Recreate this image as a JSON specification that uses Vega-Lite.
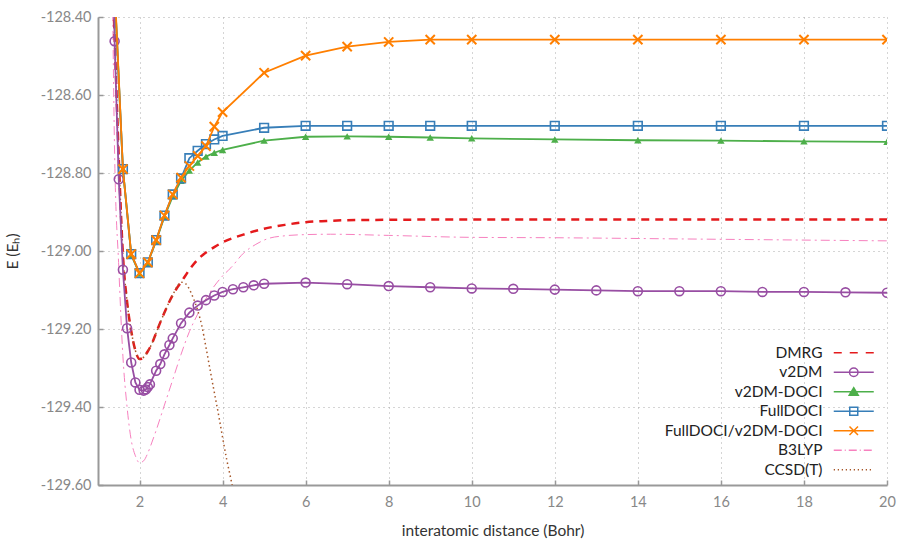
{
"$schema": "https://vega.github.io/schema/vega-lite/v6.json",
"width": 789, "height": 468,
"autosize": {"type": "none"},
"padding": {"left": 98, "top": 17, "right": 12, "bottom": 56},
"config": {
  "view": {"stroke": null},
  "font": "Lato",
  "axis": {"domainColor": "#999", "domainWidth": 2, "tickColor": "#999", "tickWidth": 1.5, "tickSize": -5, "labelFlush": false,
           "labelColor": "#888", "labelFontSize": 14.5, "labelFont": "Lato", "titleFont": "Lato", "titleFontSize": 15.5,
           "titleFontWeight": "normal", "titleColor": "#333", "gridColor": "#aaa", "gridDash": [1, 4], "gridWidth": 1}
},
"datasets": {
  "d": [
    {"s":"DMRG","x":1.35,"E":-128.30},{"s":"DMRG","x":1.4,"E":-128.45},{"s":"DMRG","x":1.5,"E":-128.76},{"s":"DMRG","x":1.6,"E":-129.01},
    {"s":"DMRG","x":1.7,"E":-129.13},{"s":"DMRG","x":1.8,"E":-129.205},{"s":"DMRG","x":1.9,"E":-129.255},{"s":"DMRG","x":2.0,"E":-129.277},
    {"s":"DMRG","x":2.1,"E":-129.272},{"s":"DMRG","x":2.2,"E":-129.257},{"s":"DMRG","x":2.3,"E":-129.237},{"s":"DMRG","x":2.4,"E":-129.21},
    {"s":"DMRG","x":2.5,"E":-129.183},{"s":"DMRG","x":2.6,"E":-129.158},{"s":"DMRG","x":2.7,"E":-129.134},{"s":"DMRG","x":2.8,"E":-129.113},
    {"s":"DMRG","x":2.9,"E":-129.095},{"s":"DMRG","x":3.0,"E":-129.08},{"s":"DMRG","x":3.2,"E":-129.048},{"s":"DMRG","x":3.4,"E":-129.022},
    {"s":"DMRG","x":3.6,"E":-129.004},{"s":"DMRG","x":3.8,"E":-128.99},{"s":"DMRG","x":4.0,"E":-128.978},{"s":"DMRG","x":4.5,"E":-128.958},
    {"s":"DMRG","x":5.0,"E":-128.943},{"s":"DMRG","x":5.5,"E":-128.933},{"s":"DMRG","x":6.0,"E":-128.926},{"s":"DMRG","x":6.5,"E":-128.923},
    {"s":"DMRG","x":7,"E":-128.921},{"s":"DMRG","x":8,"E":-128.92},{"s":"DMRG","x":10,"E":-128.919},{"s":"DMRG","x":12,"E":-128.919},
    {"s":"DMRG","x":14,"E":-128.919},{"s":"DMRG","x":16,"E":-128.919},{"s":"DMRG","x":18,"E":-128.919},{"s":"DMRG","x":20,"E":-128.919},

    {"s":"B3LYP","x":1.3,"E":-127.9},{"s":"B3LYP","x":1.35,"E":-128.35},{"s":"B3LYP","x":1.4,"E":-128.75},{"s":"B3LYP","x":1.5,"E":-129.04},
    {"s":"B3LYP","x":1.6,"E":-129.27},{"s":"B3LYP","x":1.7,"E":-129.40},{"s":"B3LYP","x":1.8,"E":-129.485},{"s":"B3LYP","x":1.9,"E":-129.525},
    {"s":"B3LYP","x":2.0,"E":-129.543},{"s":"B3LYP","x":2.1,"E":-129.538},{"s":"B3LYP","x":2.2,"E":-129.518},{"s":"B3LYP","x":2.3,"E":-129.49},
    {"s":"B3LYP","x":2.4,"E":-129.46},{"s":"B3LYP","x":2.6,"E":-129.395},{"s":"B3LYP","x":2.8,"E":-129.33},{"s":"B3LYP","x":3.0,"E":-129.265},
    {"s":"B3LYP","x":3.2,"E":-129.207},{"s":"B3LYP","x":3.4,"E":-129.162},{"s":"B3LYP","x":3.6,"E":-129.122},{"s":"B3LYP","x":3.8,"E":-129.09},
    {"s":"B3LYP","x":4.0,"E":-129.064},{"s":"B3LYP","x":4.2,"E":-129.043},{"s":"B3LYP","x":4.5,"E":-129.006},{"s":"B3LYP","x":4.8,"E":-128.983},
    {"s":"B3LYP","x":5.1,"E":-128.968},{"s":"B3LYP","x":5.5,"E":-128.961},{"s":"B3LYP","x":6.0,"E":-128.958},{"s":"B3LYP","x":6.6,"E":-128.957},
    {"s":"B3LYP","x":8,"E":-128.96},{"s":"B3LYP","x":10,"E":-128.965},{"s":"B3LYP","x":12,"E":-128.966},{"s":"B3LYP","x":15,"E":-128.969},
    {"s":"B3LYP","x":20,"E":-128.974},

    {"s":"CCSD(T)","x":1.35,"E":-128.30},{"s":"CCSD(T)","x":1.4,"E":-128.45},{"s":"CCSD(T)","x":1.5,"E":-128.76},{"s":"CCSD(T)","x":1.6,"E":-129.01},
    {"s":"CCSD(T)","x":1.7,"E":-129.13},{"s":"CCSD(T)","x":1.8,"E":-129.205},{"s":"CCSD(T)","x":1.9,"E":-129.255},{"s":"CCSD(T)","x":2.0,"E":-129.277},
    {"s":"CCSD(T)","x":2.1,"E":-129.272},{"s":"CCSD(T)","x":2.2,"E":-129.257},{"s":"CCSD(T)","x":2.3,"E":-129.237},{"s":"CCSD(T)","x":2.4,"E":-129.21},
    {"s":"CCSD(T)","x":2.5,"E":-129.183},{"s":"CCSD(T)","x":2.6,"E":-129.158},{"s":"CCSD(T)","x":2.7,"E":-129.134},{"s":"CCSD(T)","x":2.8,"E":-129.113},
    {"s":"CCSD(T)","x":2.9,"E":-129.092},{"s":"CCSD(T)","x":3.0,"E":-129.08},{"s":"CCSD(T)","x":3.1,"E":-129.083},{"s":"CCSD(T)","x":3.2,"E":-129.098},
    {"s":"CCSD(T)","x":3.3,"E":-129.122},{"s":"CCSD(T)","x":3.4,"E":-129.152},{"s":"CCSD(T)","x":3.5,"E":-129.192},{"s":"CCSD(T)","x":3.6,"E":-129.247},
    {"s":"CCSD(T)","x":3.7,"E":-129.305},{"s":"CCSD(T)","x":3.8,"E":-129.362},{"s":"CCSD(T)","x":3.9,"E":-129.418},{"s":"CCSD(T)","x":4.0,"E":-129.478},
    {"s":"CCSD(T)","x":4.1,"E":-129.535},{"s":"CCSD(T)","x":4.2,"E":-129.585},{"s":"CCSD(T)","x":4.3,"E":-129.64},

    {"s":"v2DM","x":1.3,"E":-127.9},{"s":"v2DM","x":1.4,"E":-128.462},{"s":"v2DM","x":1.5,"E":-128.816},{"s":"v2DM","x":1.6,"E":-129.048},
    {"s":"v2DM","x":1.7,"E":-129.198},{"s":"v2DM","x":1.8,"E":-129.286},{"s":"v2DM","x":1.9,"E":-129.337},{"s":"v2DM","x":2.0,"E":-129.356},
    {"s":"v2DM","x":2.1,"E":-129.358},{"s":"v2DM","x":2.15,"E":-129.355},{"s":"v2DM","x":2.2,"E":-129.349},{"s":"v2DM","x":2.25,"E":-129.342},
    {"s":"v2DM","x":2.4,"E":-129.307},{"s":"v2DM","x":2.5,"E":-129.29},{"s":"v2DM","x":2.6,"E":-129.265},{"s":"v2DM","x":2.72,"E":-129.241},
    {"s":"v2DM","x":2.8,"E":-129.224},{"s":"v2DM","x":3.0,"E":-129.185},{"s":"v2DM","x":3.2,"E":-129.158},{"s":"v2DM","x":3.4,"E":-129.14},
    {"s":"v2DM","x":3.6,"E":-129.126},{"s":"v2DM","x":3.8,"E":-129.114},{"s":"v2DM","x":4.0,"E":-129.105},{"s":"v2DM","x":4.25,"E":-129.098},
    {"s":"v2DM","x":4.5,"E":-129.093},{"s":"v2DM","x":4.75,"E":-129.088},{"s":"v2DM","x":5,"E":-129.084},{"s":"v2DM","x":6,"E":-129.081},
    {"s":"v2DM","x":7,"E":-129.085},{"s":"v2DM","x":8,"E":-129.09},{"s":"v2DM","x":9,"E":-129.093},{"s":"v2DM","x":10,"E":-129.096},
    {"s":"v2DM","x":11,"E":-129.097},{"s":"v2DM","x":12,"E":-129.099},{"s":"v2DM","x":13,"E":-129.101},{"s":"v2DM","x":14,"E":-129.103},
    {"s":"v2DM","x":15,"E":-129.103},{"s":"v2DM","x":16,"E":-129.103},{"s":"v2DM","x":17,"E":-129.105},{"s":"v2DM","x":18,"E":-129.105},
    {"s":"v2DM","x":19,"E":-129.106},{"s":"v2DM","x":20,"E":-129.107},

    {"s":"v2DM-DOCI","x":1.4,"E":-128.33},{"s":"v2DM-DOCI","x":1.6,"E":-128.79},{"s":"v2DM-DOCI","x":1.8,"E":-129.01},{"s":"v2DM-DOCI","x":2.0,"E":-129.058},
    {"s":"v2DM-DOCI","x":2.2,"E":-129.03},{"s":"v2DM-DOCI","x":2.4,"E":-128.974},{"s":"v2DM-DOCI","x":2.6,"E":-128.912},{"s":"v2DM-DOCI","x":2.8,"E":-128.86},
    {"s":"v2DM-DOCI","x":3.0,"E":-128.82},{"s":"v2DM-DOCI","x":3.2,"E":-128.794},{"s":"v2DM-DOCI","x":3.4,"E":-128.773},{"s":"v2DM-DOCI","x":3.6,"E":-128.758},
    {"s":"v2DM-DOCI","x":3.8,"E":-128.748},{"s":"v2DM-DOCI","x":4.0,"E":-128.741},{"s":"v2DM-DOCI","x":5,"E":-128.717},{"s":"v2DM-DOCI","x":6,"E":-128.707},
    {"s":"v2DM-DOCI","x":7,"E":-128.706},{"s":"v2DM-DOCI","x":8,"E":-128.707},{"s":"v2DM-DOCI","x":9,"E":-128.709},{"s":"v2DM-DOCI","x":10,"E":-128.711},
    {"s":"v2DM-DOCI","x":12,"E":-128.714},{"s":"v2DM-DOCI","x":14,"E":-128.716},{"s":"v2DM-DOCI","x":16,"E":-128.717},{"s":"v2DM-DOCI","x":18,"E":-128.719},
    {"s":"v2DM-DOCI","x":20,"E":-128.72},

    {"s":"FullDOCI","x":1.4,"E":-128.33},{"s":"FullDOCI","x":1.6,"E":-128.79},{"s":"FullDOCI","x":1.8,"E":-129.008},{"s":"FullDOCI","x":2.0,"E":-129.057},
    {"s":"FullDOCI","x":2.2,"E":-129.029},{"s":"FullDOCI","x":2.4,"E":-128.972},{"s":"FullDOCI","x":2.6,"E":-128.909},{"s":"FullDOCI","x":2.8,"E":-128.855},
    {"s":"FullDOCI","x":3.0,"E":-128.814},{"s":"FullDOCI","x":3.2,"E":-128.762},{"s":"FullDOCI","x":3.4,"E":-128.743},{"s":"FullDOCI","x":3.6,"E":-128.726},
    {"s":"FullDOCI","x":3.8,"E":-128.714},{"s":"FullDOCI","x":4.0,"E":-128.705},{"s":"FullDOCI","x":5,"E":-128.684},{"s":"FullDOCI","x":6,"E":-128.679},
    {"s":"FullDOCI","x":7,"E":-128.679},{"s":"FullDOCI","x":8,"E":-128.679},{"s":"FullDOCI","x":9,"E":-128.679},{"s":"FullDOCI","x":10,"E":-128.679},
    {"s":"FullDOCI","x":12,"E":-128.679},{"s":"FullDOCI","x":14,"E":-128.679},{"s":"FullDOCI","x":16,"E":-128.679},{"s":"FullDOCI","x":18,"E":-128.679},
    {"s":"FullDOCI","x":20,"E":-128.679},

    {"s":"FullDOCI/v2DM-DOCI","x":1.4,"E":-128.32},{"s":"FullDOCI/v2DM-DOCI","x":1.6,"E":-128.79},{"s":"FullDOCI/v2DM-DOCI","x":1.8,"E":-129.008},
    {"s":"FullDOCI/v2DM-DOCI","x":2.0,"E":-129.057},{"s":"FullDOCI/v2DM-DOCI","x":2.2,"E":-129.029},{"s":"FullDOCI/v2DM-DOCI","x":2.4,"E":-128.972},
    {"s":"FullDOCI/v2DM-DOCI","x":2.6,"E":-128.909},{"s":"FullDOCI/v2DM-DOCI","x":2.8,"E":-128.855},{"s":"FullDOCI/v2DM-DOCI","x":3.0,"E":-128.812},
    {"s":"FullDOCI/v2DM-DOCI","x":3.2,"E":-128.782},{"s":"FullDOCI/v2DM-DOCI","x":3.4,"E":-128.756},{"s":"FullDOCI/v2DM-DOCI","x":3.6,"E":-128.731},
    {"s":"FullDOCI/v2DM-DOCI","x":3.8,"E":-128.681},{"s":"FullDOCI/v2DM-DOCI","x":4.0,"E":-128.644},{"s":"FullDOCI/v2DM-DOCI","x":5,"E":-128.543},
    {"s":"FullDOCI/v2DM-DOCI","x":6,"E":-128.499},{"s":"FullDOCI/v2DM-DOCI","x":7,"E":-128.476},{"s":"FullDOCI/v2DM-DOCI","x":8,"E":-128.464},
    {"s":"FullDOCI/v2DM-DOCI","x":9,"E":-128.458},{"s":"FullDOCI/v2DM-DOCI","x":10,"E":-128.458},{"s":"FullDOCI/v2DM-DOCI","x":12,"E":-128.458},
    {"s":"FullDOCI/v2DM-DOCI","x":14,"E":-128.458},{"s":"FullDOCI/v2DM-DOCI","x":16,"E":-128.458},{"s":"FullDOCI/v2DM-DOCI","x":18,"E":-128.458},
    {"s":"FullDOCI/v2DM-DOCI","x":20,"E":-128.458}
  ],
  "leg": [
    {"s":"DMRG","x":0,"E":-129},{"s":"v2DM","x":0,"E":-129},{"s":"v2DM-DOCI","x":0,"E":-129},{"s":"FullDOCI","x":0,"E":-129},
    {"s":"FullDOCI/v2DM-DOCI","x":0,"E":-129},{"s":"B3LYP","x":0,"E":-129},{"s":"CCSD(T)","x":0,"E":-129}
  ]
},
"data": {"name": "d"},
"encoding": {
  "x": {"field": "x", "type": "quantitative", "scale": {"domain": [1, 20]},
        "axis": {"values": [2,4,6,8,10,12,14,16,18,20], "title": "interatomic distance (Bohr)", "grid": true, "labelPadding": 15, "titlePadding": 15}},
  "y": {"field": "E", "type": "quantitative", "scale": {"domain": [-129.6, -128.4], "zero": false},
        "axis": {"values": [-129.6,-129.4,-129.2,-129.0,-128.8,-128.6,-128.4], "title": "E (Eₕ)", "grid": true,
                 "labelExpr": "replace(format(datum.value, '.2f'), '−', '-')", "labelPadding": 12, "titlePadding": 20}}
},
"layer": [
  {"transform": [{"filter": "datum.s === 'B3LYP'"}], "mark": {"type": "line", "clip": true, "color": "#f781bf", "strokeWidth": 1, "strokeDash": [9, 4, 2, 4], "interpolate": "monotone"}},
  {"transform": [{"filter": "datum.s === 'DMRG'"}], "mark": {"type": "line", "clip": true, "color": "#e41a1c", "strokeWidth": 2.5, "strokeDash": [8, 6], "interpolate": "monotone"}},
  {"transform": [{"filter": "datum.s === 'CCSD(T)'"}], "mark": {"type": "line", "clip": true, "color": "#a65628", "strokeWidth": 1.5, "strokeDash": [1.5, 3], "interpolate": "monotone"}},
  {"transform": [{"filter": "datum.s === 'v2DM'"}], "mark": {"type": "line", "clip": true, "color": "#984ea3", "strokeWidth": 1.8}},
  {"transform": [{"filter": "datum.s === 'v2DM'"}], "mark": {"type": "point", "clip": true, "color": "#984ea3", "shape": "circle", "filled": false, "size": 80, "strokeWidth": 1.6, "opacity": 1}},
  {"transform": [{"filter": "datum.s === 'v2DM-DOCI'"}], "mark": {"type": "line", "clip": true, "color": "#4daf4a", "strokeWidth": 1.8}},
  {"transform": [{"filter": "datum.s === 'v2DM-DOCI'"}], "mark": {"type": "point", "clip": true, "color": "#4daf4a", "shape": "triangle-up", "filled": true, "size": 55, "opacity": 1}},
  {"transform": [{"filter": "datum.s === 'FullDOCI'"}], "mark": {"type": "line", "clip": true, "color": "#377eb8", "strokeWidth": 1.8}},
  {"transform": [{"filter": "datum.s === 'FullDOCI'"}], "mark": {"type": "point", "clip": true, "color": "#377eb8", "shape": "square", "filled": false, "size": 75, "strokeWidth": 1.6, "opacity": 1}},
  {"transform": [{"filter": "datum.s === 'FullDOCI/v2DM-DOCI'"}], "mark": {"type": "line", "clip": true, "color": "#ff7f00", "strokeWidth": 1.8}},
  {"transform": [{"filter": "datum.s === 'FullDOCI/v2DM-DOCI'"}], "mark": {"type": "point", "clip": true, "color": "#ff7f00", "shape": "M-1,-1L1,1M-1,1L1,-1", "filled": false, "size": 85, "strokeWidth": 2, "opacity": 1}},
  {"data": {"name": "leg"},
   "mark": {"type": "point", "clip": true, "opacity": 1},
   "encoding": {
     "stroke": {"field": "s", "type": "nominal",
       "scale": {"domain": ["DMRG","v2DM","v2DM-DOCI","FullDOCI","FullDOCI/v2DM-DOCI","B3LYP","CCSD(T)"],
                 "range": ["#e41a1c","#984ea3","#4daf4a","#377eb8","#ff7f00","#f781bf","#a65628"]},
       "legend": {"title": null, "orient": "none", "legendX": 748, "legendY": 328, "labelAlign": "right", "labelOffset": -39,
                  "labelFontSize": 15.5, "labelColor": "#222", "labelFont": "Lato", "symbolSize": 100, "symbolStrokeWidth": 1.5, "rowPadding": 2.5, "labelLimit": 300}},
     "fill": {"field": "s", "type": "nominal",
       "scale": {"domain": ["DMRG","v2DM","v2DM-DOCI","FullDOCI","FullDOCI/v2DM-DOCI","B3LYP","CCSD(T)"],
                 "range": ["transparent","transparent","#4daf4a","transparent","transparent","transparent","transparent"]},
       "legend": {"title": null, "orient": "none", "legendX": 748, "legendY": 328, "labelAlign": "right", "labelOffset": -39,
                  "labelFontSize": 15.5, "labelColor": "#222", "labelFont": "Lato", "symbolSize": 100, "symbolStrokeWidth": 1.5, "rowPadding": 2.5, "labelLimit": 300}},
     "shape": {"field": "s", "type": "nominal",
       "scale": {"domain": ["DMRG","v2DM","v2DM-DOCI","FullDOCI","FullDOCI/v2DM-DOCI","B3LYP","CCSD(T)"],
                 "range": ["M-4,0H-2.4M-0.8,0H0.8M2.4,0H4",
                           "M-4,0H4M-0.85,0A0.85,0.85 0 1,0 0.85,0A0.85,0.85 0 1,0 -0.85,0",
                           "M-4,0H4M-0.9,0.7L0,-0.8L0.9,0.7Z",
                           "M-4,0H4M-0.8,-0.8H0.8V0.8H-0.8Z",
                           "M-4,0H4M-0.85,-0.85L0.85,0.85M-0.85,0.85L0.85,-0.85",
                           "M-4,0H-2.4M-1.8,0H-1.6M-1,0H0.6M1.2,0H1.4M2,0H3.6",
                           "M-4,0h0.25M-3.2,0h0.25M-2.4,0h0.25M-1.6,0h0.25M-0.8,0h0.25M0,0h0.25M0.8,0h0.25M1.6,0h0.25M2.4,0h0.25M3.2,0h0.25"]},
       "legend": {"title": null, "orient": "none", "legendX": 748, "legendY": 328, "labelAlign": "right", "labelOffset": -39,
                  "labelFontSize": 15.5, "labelColor": "#222", "labelFont": "Lato", "symbolSize": 100, "symbolStrokeWidth": 1.5, "rowPadding": 2.5, "labelLimit": 300}}
   }}
]
}
